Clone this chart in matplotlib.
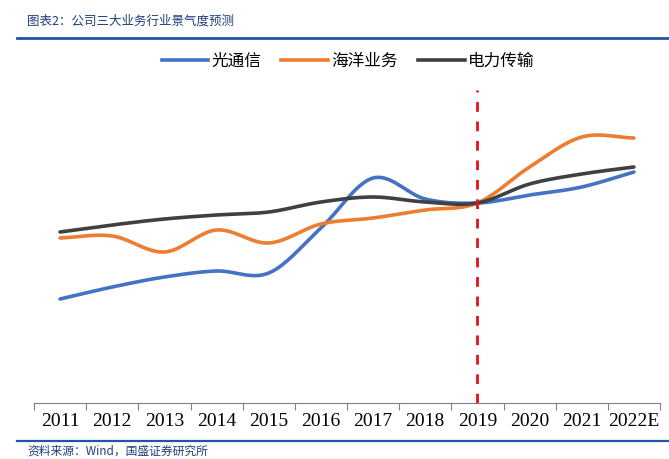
import numpy as np
import matplotlib
matplotlib.use("Agg")
import matplotlib.pyplot as plt
from matplotlib.lines import Line2D

plt.rcParams['font.family'] = ['Noto Sans CJK SC', 'DejaVu Sans']

# ---- data (index level) ----
years = ['2011', '2012', '2013', '2014', '2015', '2016', '2017', '2018',
         '2019', '2020', '2021', '2022E']
optical = [104, 116, 126, 132, 130, 175, 225, 204, 200, 208, 216, 231]
marine = [165, 167, 151, 173, 160, 179, 185, 193, 200, 236, 266, 265]
power = [171, 178, 184, 188, 191, 201, 206, 201, 200, 219, 229, 236]
series_names = ['光通信', '海洋业务', '电力传输']
colors = ['#4472C4', '#ED7D31', '#404040']


def smooth(x, y, n=20):
    # catmull-rom style smoothing like excel's "smoothed line"
    x = np.asarray(x, float)
    y = np.asarray(y, float)
    xs, ys = [], []
    px = np.concatenate([[2 * x[0] - x[1]], x, [2 * x[-1] - x[-2]]])
    py = np.concatenate([[2 * y[0] - y[1]], y, [2 * y[-1] - y[-2]]])
    t = np.linspace(0, 1, n)
    for i in range(1, len(px) - 2):
        for p, out in ((px, xs), (py, ys)):
            p0, p1, p2, p3 = p[i - 1], p[i], p[i + 1], p[i + 2]
            seg = 0.5 * ((2 * p1) + (-p0 + p2) * t +
                         (2 * p0 - 5 * p1 + 4 * p2 - p3) * t ** 2 +
                         (-p0 + 3 * p1 - 3 * p2 + p3) * t ** 3)
            out.extend(seg)
    return np.array(xs), np.array(ys)


fig = plt.figure(figsize=(6.69, 4.59), dpi=100)
ax = fig.add_axes([34 / 669, 56 / 459, 626 / 669, 330 / 459])

xpos = np.arange(len(years)) + 0.5
for vals, c in zip([optical, marine, power], colors):
    sx, sy = smooth(xpos, vals)
    ax.plot(sx, sy, color=c, lw=2.6, solid_capstyle='round')

ax.vlines(xpos[years.index('2019')], 0, 313, colors='#E8101A', lw=2,
          linestyles=(0, (3.5, 3.5)))

ax.set_xlim(0, len(years))
ax.set_ylim(0, 330)
ax.set_xticks(np.arange(len(years) + 1))
ax.set_xticklabels([])
ax.set_xticks(xpos, minor=True)
ax.set_xticklabels(years, minor=True, family='Liberation Serif', fontsize=14)
ax.tick_params(axis='x', which='minor', length=0, pad=7)
ax.tick_params(axis='x', which='major', length=5, color='#808080')
ax.set_yticks([])
for s in ['top', 'right', 'left']:
    ax.spines[s].set_visible(False)
ax.spines['bottom'].set_color('#808080')

handles = [Line2D([], [], color=c, lw=2.6) for c in colors]
fig.legend(handles, series_names, loc='center', bbox_to_anchor=(348 / 669, 1 - 61 / 459),
           ncol=3, frameon=False, fontsize=12, handlelength=2.8,
           handletextpad=0.2, columnspacing=1.2)

# header / footer
fig.add_artist(Line2D([17 / 669, 1], [1 - 37.5 / 459] * 2, color='#2155A3', lw=2))
fig.add_artist(Line2D([17 / 669, 1], [1 - 441 / 459] * 2, color='#2155A3', lw=1.6))
fig.text(27 / 669, 1 - 21 / 459, '图表2：公司三大业务行业景气度预测', fontsize=9,
         style='italic', color='#1F3F7A', va='center')
fig.text(27 / 669, 1 - 451 / 459, '资料来源：Wind，国盛证券研究所', fontsize=8.5,
         style='italic', color='#1F3F7A', va='center')

fig.savefig('out.png', dpi=100)
